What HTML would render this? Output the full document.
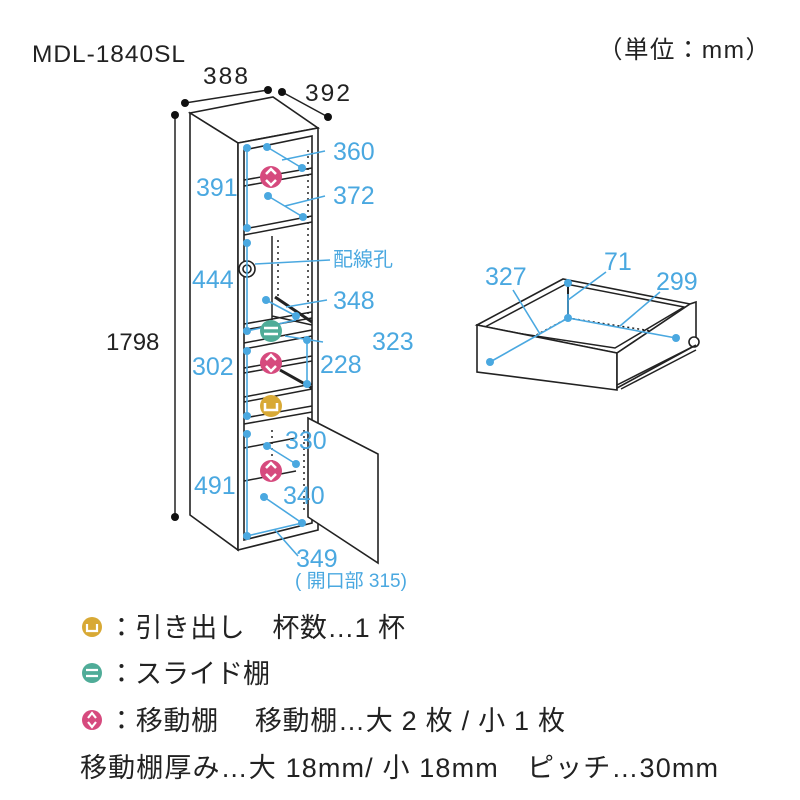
<!DOCTYPE html>
<html><head><meta charset="utf-8"><style>
html,body{margin:0;padding:0;background:#fff}
svg{display:block}
.b{fill:#4aa8e0;font-family:"Liberation Sans","Noto Sans CJK JP",sans-serif;font-size:25px}
.k{fill:#222;font-family:"Liberation Sans","Noto Sans CJK JP",sans-serif;font-size:25px}
.g{fill:#222;font-family:"Liberation Sans","Noto Sans CJK JP",sans-serif;font-size:27px}
.l{stroke:#4aa8e0;stroke-width:1.6;fill:none}
.c{stroke:#222;stroke-width:1.6;fill:#fff}
.d{fill:#4aa8e0}
</style></head><body>
<svg width="800" height="800" viewBox="0 0 800 800">
<text x="32" y="62" class="k" style="font-size:24.5px" textLength="153">MDL-1840SL</text>
<text x="598" y="58" class="k" style="font-size:24.5px" textLength="172">（単位：mm）</text>
<line x1="185" y1="103" x2="268" y2="90" stroke="#222" stroke-width="1.5"/>
<circle cx="185" cy="103" r="4" fill="#111"/><circle cx="268" cy="90" r="4" fill="#111"/>
<line x1="282" y1="92" x2="328" y2="117" stroke="#222" stroke-width="1.5"/>
<circle cx="282" cy="92" r="4" fill="#111"/><circle cx="328" cy="117" r="4" fill="#111"/>
<text x="203" y="84" class="k" style="font-size:24.5px" textLength="45">388</text>
<text x="305" y="101" class="k" style="font-size:24.5px" textLength="45">392</text>
<line x1="175" y1="115" x2="175" y2="517" stroke="#222" stroke-width="1.5"/>
<circle cx="175" cy="115" r="4" fill="#111"/><circle cx="175" cy="517" r="4" fill="#111"/>
<text x="106" y="350" class="k" style="font-size:24px">1798</text>
<polygon class="c" points="190,113 273,97 318,128 238,143"/>
<polygon class="c" points="190,113 238,143 238,550 190,515"/>
<polygon class="c" points="238,143 318,128 318,530 238,550"/>
<polygon class="c" points="244,150 312,136 312,523 244,540"/>
<g stroke="#222" stroke-width="1.5" fill="none">
<path d="M244,180 L312,168 M244,186 L312,174"/>
<path d="M244,229 L312,216 M244,235 L312,222"/>
<path d="M244,324 L312,312 M244,330 L312,318"/>
<path d="M244,343 L312,330 M244,349 L312,336"/>
<path d="M244,368 L312,356 M244,373 L312,361"/>
<path d="M244,397 L312,384 M244,402 L312,389"/>
<path d="M244,418 L312,406 M244,424 L312,412"/>
<path d="M244,448 L296,438 M244,481 L296,471"/>
<path d="M272,236 L272,320 M272,316 L312,325"/>
<path d="M275,297 L312,322" stroke-width="3"/>
<path d="M280,370 L312,388" stroke-width="3"/>
</g>
<g stroke="#222" stroke-width="1.5" stroke-dasharray="2,4">
<line x1="308" y1="150" x2="308" y2="320"/><line x1="278" y1="240" x2="278" y2="300"/>
<line x1="304" y1="430" x2="304" y2="510"/><line x1="272" y1="430" x2="272" y2="470"/>
</g>
<circle cx="247" cy="269" r="8" class="c"/><circle cx="247" cy="269" r="4" class="c"/>
<polygon class="c" points="308,418 378,454 378,563 308,517"/>
<g class="l">
<line x1="247" y1="148" x2="247" y2="228"/>
<line x1="247" y1="243" x2="247" y2="331"/>
<line x1="247" y1="351" x2="247" y2="416"/>
<line x1="247" y1="434" x2="247" y2="536"/>
<line x1="307" y1="340" x2="307" y2="384"/>
<path d="M267,147 L302,168 M282,160 L325,151"/>
<path d="M268,196 L303,217 M285,206 L325,196"/>
<path d="M255,264 L330,260"/>
<path d="M266,300 L296,316 M286,307 L327,300"/>
<path d="M247,331 L296,320 M285,336 L323,342"/>
<path d="M267,446 L296,464"/>
<path d="M264,497 L302,523 M247,536 L302,523 M275,530 L298,556"/>
</g>
<g class="d">
<circle cx="247" cy="148" r="4"/><circle cx="267" cy="147" r="4"/><circle cx="302" cy="168" r="4"/>
<circle cx="268" cy="196" r="4"/><circle cx="303" cy="217" r="4"/><circle cx="247" cy="228" r="4"/>
<circle cx="247" cy="243" r="4"/><circle cx="266" cy="300" r="4"/><circle cx="296" cy="316" r="4"/>
<circle cx="247" cy="331" r="4"/><circle cx="247" cy="351" r="4"/><circle cx="307" cy="340" r="4"/>
<circle cx="307" cy="384" r="4"/><circle cx="247" cy="416" r="4"/><circle cx="247" cy="434" r="4"/>
<circle cx="267" cy="446" r="4"/><circle cx="296" cy="464" r="4"/><circle cx="264" cy="497" r="4"/>
<circle cx="302" cy="523" r="4"/><circle cx="247" cy="536" r="4"/>
</g>
<text x="333" y="160" class="b">360</text>
<text x="333" y="204" class="b">372</text>
<text x="196" y="196" class="b">391</text>
<text x="333" y="266" class="b" style="font-size:20px">配線孔</text>
<text x="192" y="288" class="b">444</text>
<text x="333" y="309" class="b">348</text>
<text x="372" y="350" class="b">323</text>
<text x="192" y="375" class="b">302</text>
<text x="320" y="373" class="b">228</text>
<text x="285" y="449" class="b">330</text>
<text x="194" y="494" class="b">491</text>
<text x="283" y="504" class="b">340</text>
<text x="296" y="567" class="b">349</text>
<text x="295" y="587" class="b" style="font-size:19px">( 開口部 315)</text>
<g>
<circle cx="271" cy="177" r="11" fill="#d64a7e"/><path d="M266,174 L271,169 L276,174 M266,180 L271,185 L276,180" stroke="#fff" stroke-width="2.5" fill="none"/>
<circle cx="271" cy="363" r="11" fill="#d64a7e"/><path d="M266,360 L271,355 L276,360 M266,366 L271,371 L276,366" stroke="#fff" stroke-width="2.5" fill="none"/>
<circle cx="271" cy="471" r="11" fill="#d64a7e"/><path d="M266,468 L271,463 L276,468 M266,474 L271,479 L276,474" stroke="#fff" stroke-width="2.5" fill="none"/>
<circle cx="271" cy="331" r="11" fill="#4fac98"/><path d="M264,328 H278 M264,334 H278" stroke="#fff" stroke-width="2.5"/>
<circle cx="271" cy="406" r="11" fill="#d8a935"/><path d="M265,403 V410 H277 V403" stroke="#fff" stroke-width="2.5" fill="none"/>
</g>
<polygon class="c" points="477,325 563,279 690,304 617,353"/>
<polygon fill="none" stroke="#222" stroke-width="1.5" points="483,328 566,284 684,307 615,348"/>
<line x1="568" y1="283" x2="568" y2="318" stroke="#222" stroke-width="2"/>
<g stroke="#222" stroke-width="1.5" stroke-dasharray="2,3" fill="none">
<path d="M488,361 L568,318 M488,364 L617,386 M568,318 L690,337"/>
</g>
<polygon class="c" points="477,325 617,353 617,390 477,372"/>
<polygon class="c" points="617,353 690,304 696,302 696,345 617,388"/>
<circle cx="694" cy="342" r="5" class="c"/>
<path d="M617,385 L696,345 M621,389 L696,350" stroke="#222" stroke-width="1.5"/>
<g class="l"><path d="M490,362 L568,318 L676,338 M568,294 L568,318 M568,300 L606,272 M540,334 L513,290 M620,326 L660,292"/></g>
<g class="d"><circle cx="568" cy="283" r="4"/><circle cx="568" cy="318" r="4"/><circle cx="490" cy="362" r="4"/><circle cx="676" cy="338" r="4"/></g>
<text x="485" y="285" class="b">327</text>
<text x="604" y="270" class="b">71</text>
<text x="656" y="290" class="b">299</text>
<circle cx="92" cy="627" r="10" fill="#d8a935"/><path d="M87,624 V631 H97 V624" stroke="#fff" stroke-width="2.2" fill="none"/>
<text x="108" y="637" class="g" textLength="297">：引き出し　杯数…1 杯</text>
<circle cx="92" cy="673" r="10" fill="#4fac98"/><path d="M86,670 H98 M86,676 H98" stroke="#fff" stroke-width="2.2"/>
<text x="108" y="683" class="g" textLength="162">：スライド棚</text>
<circle cx="92" cy="720" r="10" fill="#d64a7e"/><path d="M88,718 L92,713 L96,718 M88,722 L92,727 L96,722" stroke="#fff" stroke-width="2.2" fill="none"/>
<text x="108" y="730" class="g" textLength="457">：移動棚　 移動棚…大 2 枚 / 小 1 枚</text>
<text x="80" y="777" class="g" textLength="638">移動棚厚み…大 18mm/ 小 18mm　ピッチ…30mm</text>
</svg>
</body></html>
